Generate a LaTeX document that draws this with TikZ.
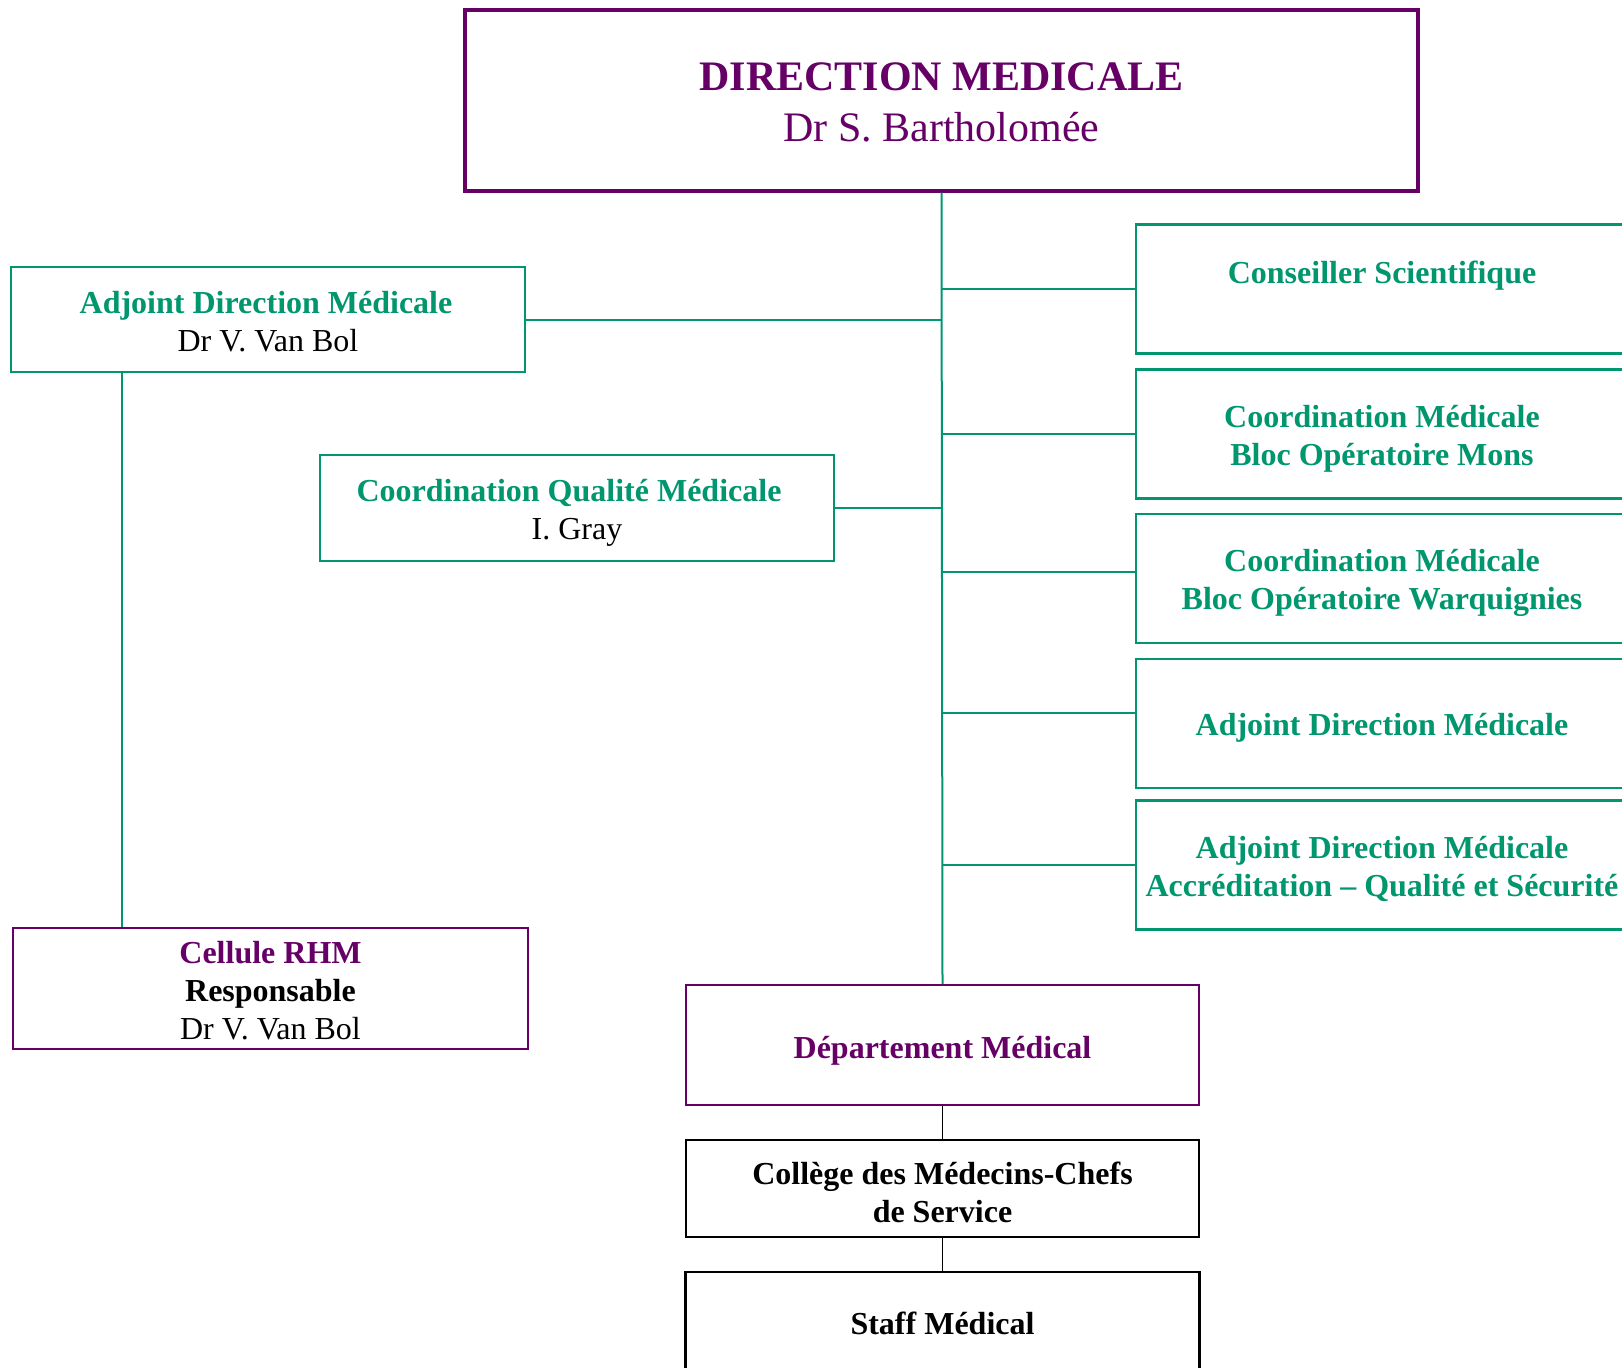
\documentclass[tikz,border=0pt]{standalone}
\usepackage{fontspec}
\setmainfont{Liberation Serif}
\definecolor{dirpurple}{RGB}{102,0,102}
\definecolor{dirgreen}{RGB}{0,150,110}
\newcommand{\orgtitle}{\fontsize{21}{25.5}\selectfont}
\newcommand{\orgtext}{\fontsize{16}{19}\selectfont}
\newcommand{\orgstrut}[1]{\rule{0pt}{#1}}

\begin{document}
\begin{tikzpicture}[x=0.5pt,y=-0.5pt,
		greenbox/.style={draw=dirgreen, line width=1.1pt, text=dirgreen, align=center, font=\orgtext\bfseries, inner sep=0pt},
		namebox/.style={draw=dirgreen, line width=1.1pt, text=black, align=center, font=\orgtext, inner sep=0pt},
		purplebox/.style={draw=dirpurple, line width=0.9pt, text=dirpurple, align=center, font=\orgtext\bfseries, inner sep=0pt},
		blackbox/.style={draw=black, line width=1.4pt, text=black, align=center, font=\orgtext\bfseries, inner sep=0pt},
		greenline/.style={draw=dirgreen, line width=1pt},
		blackline/.style={draw=black, line width=0.7pt}]
		
		\useasboundingbox (0,0) rectangle (1622,1367);
		\clip (0,0) rectangle (1622,1367);
		
		\node[draw=dirpurple, line width=1.6pt, text=dirpurple, align=center, font=\orgtitle, inner sep=0pt,
			minimum width=476.5pt, minimum height=90.5pt] (dir) at (941.5,100.5) {\orgstrut{16pt}\textbf{DIRECTION MEDICALE}\\Dr S. Bartholomée};
		
		\begin{scope}
			\node[namebox, minimum width=257pt, minimum height=52.5pt] (adl) at (268,319.5) {\orgstrut{13pt}\textcolor{dirgreen}{\textbf{Adjoint Direction Médicale}}\makebox[2pt]{}\\Dr V. Van Bol};
			\node[namebox, minimum width=257pt, minimum height=53pt] (cqm) at (577,508) {\orgstrut{16pt}\textcolor{dirgreen}{\textbf{Coordination Qualité Médicale}}\makebox[8pt]{}\\I. Gray};
			\node[purplebox, font=\orgtext, text=black, minimum width=257.5pt, minimum height=60.5pt] (rhm) at (270.5,988.5) {\orgstrut{13pt}\textcolor{dirpurple}{\textbf{Cellule RHM}}\\\textbf{Responsable}\\Dr V. Van Bol};
		\end{scope}
		
		\begin{scope}[every node/.append style={greenbox, minimum width=246pt, minimum height=64.5pt}]
			\node (cs) at (1382,289) {\orgstrut{13pt}Conseiller Scientifique\\ \mbox{}};
			\node (cbm) at (1382,434) {\orgstrut{16pt}Coordination Médicale\\Bloc Opératoire Mons};
			\node (cbw) at (1382,578.5) {\orgstrut{16pt}Coordination Médicale\\Bloc Opératoire Warquignies};
			\node (adm) at (1382,723.5) {\orgstrut{15pt}Adjoint Direction Médicale};
			\node (ada) at (1382,865) {\orgstrut{15pt}Adjoint Direction Médicale\\Accréditation -- Qualité et Sécurité};
		\end{scope}
		
		\node[purplebox, minimum width=256.5pt, minimum height=60pt] (dep) at (942.5,1045) {\orgstrut{17pt}Département Médical};
		\node[blackbox, minimum width=256.5pt, minimum height=48.5pt] (col) at (942.5,1188.5) {\orgstrut{15pt}Collège des Médecins-Chefs\\de Service};
		\node[blackbox, minimum width=257pt, minimum height=51pt] (stf) at (942.5,1323) {Staff Médical};
		
		\draw[greenline] (dir.south) -- (dep.north);
		\draw[greenline] (adl.east) -- (adl.east -| dir.south);
		\draw[greenline] (cqm.east) -- (cqm.east -| dir.south);
		\draw[greenline] (cs.west) -- (cs.west -| dir.south);
		\draw[greenline] (cbm.west) -- (cbm.west -| dir.south);
		\draw[greenline] ([yshift=3.2pt]cbw.west) -- ([yshift=3.2pt]cbw.west -| dir.south);
		\draw[greenline] ([yshift=5.4pt]adm.west) -- ([yshift=5.4pt]adm.west -| dir.south);
		\draw[greenline] (ada.west) -- (ada.west -| dir.south);
		\draw[greenline] ([xshift=56pt]adl.south west) coordinate (d) -- (d |- rhm.north);
		
		\draw[blackline] (dep.south) -- (col.north);
		\draw[blackline] (col.south) -- (stf.north);
	
	\end{tikzpicture}
\end{document}
